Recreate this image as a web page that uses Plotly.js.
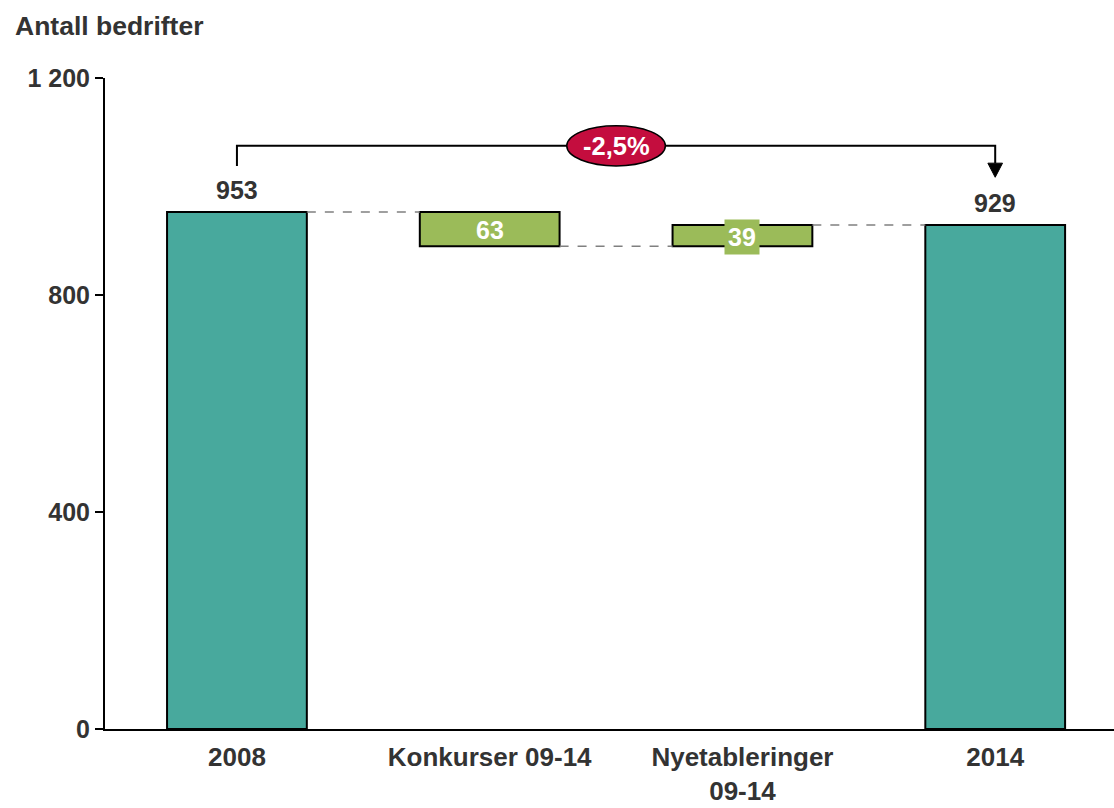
<!DOCTYPE html>
<html>
<head>
<meta charset="utf-8">
<script src="https://cdn.plot.ly/plotly-3.0.1.min.js"></script>
<style>html,body{margin:0;padding:0;background:#fff;}#chart{width:1114px;height:808px;}</style>
</head>
<body>
<div id="chart"></div>
<script>
// ---- data ----
const categories = ['2008', 'Konkurser 09-14', 'Nyetableringer<br>09-14', '2014'];
const measures = ['absolute', 'relative', 'relative', 'total'];
const values = [953, -63, 39, 929];
const yTicks = [0, 400, 800, 1200];
const yTitle = 'Antall bedrifter';

// ---- derived ----
const TEAL = '#48A99D', GREEN = '#9BBB59', RED = '#C40D3E', TXT = '#333333';
const xs = categories.map((c, i) => i);
const bases = [], heights = [], colors = [], tops = [], bottoms = [];
let running = 0;
values.forEach((v, i) => {
  if (measures[i] === 'absolute' || measures[i] === 'total') {
    bases.push(0); heights.push(v); colors.push(TEAL);
    running = v; tops.push(v); bottoms.push(0);
  } else {
    const start = running, end = running + v;
    bases.push(Math.min(start, end)); heights.push(Math.abs(v)); colors.push(GREEN);
    tops.push(Math.max(start, end)); bottoms.push(Math.min(start, end));
    running = end;
  }
});
const levelsAfter = []; running = 0;
values.forEach((v, i) => { running = (measures[i] === 'relative') ? running + v : v; levelsAfter.push(running); });

const BW = 0.553;
const trace = {
  type: 'bar', x: xs, y: heights, base: bases, width: BW,
  marker: {color: colors, line: {color: '#000', width: 2}},
  hoverinfo: 'skip', showlegend: false
};

const shapes = [];
// connectors
for (let i = 0; i < values.length - 1; i++) {
  shapes.push({type: 'line', xref: 'x', yref: 'y', x0: i + BW / 2, x1: i + 1 - BW / 2,
    y0: levelsAfter[i], y1: levelsAfter[i], line: {color: '#808080', width: 1.5, dash: 'dash'}});
}
// bracket
const first = values[0], last = values[values.length - 1], li = values.length - 1;
const bracketY = 1075;
shapes.push({type: 'path', xref: 'x', yref: 'y',
  path: `M0,${first + 85} L0,${bracketY} L${li},${bracketY} L${li},${last + 88 + 26}`,
  line: {color: '#000', width: 2}});
const tip = last + 88;
shapes.push({type: 'path', xref: 'x', yref: 'y',
  path: `M${li - 0.029},${tip + 26} L${li + 0.029},${tip + 26} L${li},${tip} Z`,
  fillcolor: '#000', line: {color: '#000', width: 1}});
// ellipse
const mid = li / 2;
shapes.push({type: 'circle', xref: 'x', yref: 'y',
  x0: mid - 0.195, x1: mid + 0.195, y0: bracketY - 37, y1: bracketY + 37,
  fillcolor: RED, line: {color: '#000', width: 1.5}});

const pct = ((last - first) / first * 100).toFixed(1).replace('.', ',') + '%';

const annotations = [];
values.forEach((v, i) => {
  if (measures[i] === 'relative') {
    const box = Math.abs(v) < 50;
    annotations.push({x: i, y: (tops[i] + bottoms[i]) / 2, xref: 'x', yref: 'y', text: String(Math.abs(v)),
      showarrow: false, font: {color: '#fff', size: 25, weight: 'bold'},
      bgcolor: box ? GREEN : 'rgba(0,0,0,0)', borderpad: box ? 3 : 0, yshift: -1});
  } else {
    annotations.push({x: i, y: tops[i], xref: 'x', yref: 'y', yanchor: 'bottom', text: String(v),
      showarrow: false, font: {color: TXT, size: 25, weight: 'bold'}, yshift: 6});
  }
});
annotations.push({x: mid, y: bracketY, xref: 'x', yref: 'y', text: pct, showarrow: false,
  font: {color: '#fff', size: 25.5, weight: 'bold'}});

const layout = {
  width: 1114, height: 808,
  margin: {l: 105, r: 0, t: 78, b: 79},
  paper_bgcolor: '#fff', plot_bgcolor: '#fff',
  separators: ', ',
  font: {family: 'Liberation Sans, Arial, sans-serif', size: 25, color: TXT, weight: 'bold'},
  title: {text: yTitle, xref: 'container', yref: 'container', x: 15 / 1114, xanchor: 'left',
    y: 1 - 26 / 808, yanchor: 'middle', font: {size: 26.5, color: TXT, weight: 'bold'}},
  xaxis: {range: [-0.522, 3.47], tickvals: xs, ticktext: categories, showline: true, linecolor: '#000',
    linewidth: 2, ticks: '', showgrid: false, zeroline: false, fixedrange: true, ticklabelstandoff: 4,
    tickfont: {size: 26, color: TXT, weight: 'bold'}},
  yaxis: {range: [0, 1200], tickvals: yTicks, tickformat: ',d', showline: true, linecolor: '#000',
    linewidth: 2, ticks: 'outside', ticklen: 8, tickwidth: 2, tickcolor: '#000', showgrid: false,
    zeroline: false, fixedrange: true, tickfont: {size: 25, color: TXT, weight: 'bold'}},
  shapes: shapes, annotations: annotations, bargap: 0
};
Plotly.newPlot('chart', [trace], layout, {displayModeBar: false, staticPlot: true});
</script>
</body>
</html>
